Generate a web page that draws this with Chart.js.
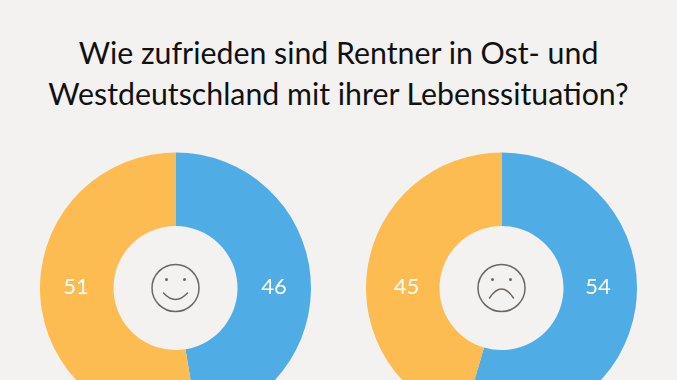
<!DOCTYPE html>
<html lang="de">
<head>
<meta charset="utf-8">
<title>Zufriedenheit Rentner</title>
<script src="https://cdn.jsdelivr.net/npm/chart.js@4"></script>
<style>
  html, body { margin: 0; width: 677px; height: 380px; overflow: hidden; background: #f3f2f1; }
  h1 {
    position: absolute; left: 0; top: 32px; width: 677px; margin: 0;
    font: 400 30.3px/40.5px Lato, sans-serif; color: #111; text-align: center;
  }
  canvas { position: absolute; top: 138px; }
  #zufrieden { left: 30px; }
  #unzufrieden { left: 356px; }
</style>
</head>
<body>
<h1>Wie zufrieden sind Rentner in Ost- und<br>Westdeutschland mit ihrer Lebenssituation?</h1>
<canvas id="zufrieden" width="291" height="300"></canvas>
<canvas id="unzufrieden" width="291" height="300"></canvas>
<script>
const categories = ["Ja", "Nein"];
const westValues = [46, 51];
const ostValues = [54, 45];
const sliceColors = ["#4facE4", "#fdbc52"];

// Zahlen in den Ringen und Smiley in der Mitte
const ringExtras = {
  id: "ringExtras",
  afterDraw(chart, args, opts) {
    const c = chart.ctx;
    const arc = chart.getDatasetMeta(0).data[0];
    const x = arc.x, y = arc.y;
    const values = chart.data.datasets[0].data;

    c.save();
    c.fillStyle = "#fff";
    c.font = "400 22px Lato, sans-serif";
    c.textAlign = "center";
    c.textBaseline = "middle";
    c.fillText(values[0], x + opts.rightOffset, y - 1);
    c.fillText(values[1], x - opts.leftOffset, y - 1);

    c.strokeStyle = "#6d6560";
    c.fillStyle = "#6d6560";
    c.lineWidth = 1.5;
    c.lineCap = "round";
    c.beginPath();
    c.arc(x, y, 23.5, 0, Math.PI * 2);
    c.stroke();
    [-9, 9].forEach((dx) => {
      c.beginPath();
      c.arc(x + dx, y - 8.5, 1.5, 0, Math.PI * 2);
      c.fill();
    });
    c.beginPath();
    if (opts.happy) {
      c.moveTo(x - 12, y + 5);
      c.quadraticCurveTo(x, y + 18, x + 12, y + 5);
    } else {
      c.moveTo(x - 12, y + 10);
      c.quadraticCurveTo(x, y - 8, x + 12, y + 10);
    }
    c.stroke();
    c.restore();
  },
};

function makeRing(id, values, extras) {
  return new Chart(document.getElementById(id), {
    type: "doughnut",
    data: {
      labels: categories,
      datasets: [{ data: values, backgroundColor: sliceColors, borderWidth: 0 }],
    },
    options: {
      responsive: false,
      animation: false,
      radius: 135.5,
      cutout: 66.6,
      plugins: {
        legend: { display: false },
        tooltip: { enabled: false },
        ringExtras: extras,
      },
    },
    plugins: [ringExtras],
  });
}

makeRing("zufrieden", westValues, { happy: true, leftOffset: 99.5, rightOffset: 98.5 });
makeRing("unzufrieden", ostValues, { happy: false, leftOffset: 95, rightOffset: 96.5 });
</script>
</body>
</html>
